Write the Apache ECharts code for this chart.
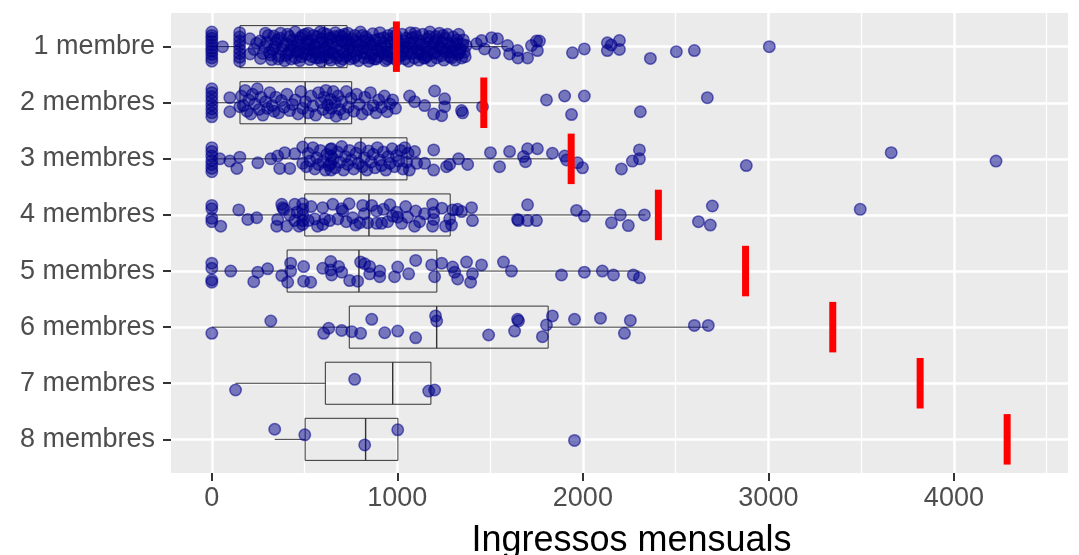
<!DOCTYPE html>
<html>
<head>
<meta charset="utf-8">
<script src="https://cdn.jsdelivr.net/npm/echarts@6/dist/echarts.min.js"></script>
<style>
html, body { margin: 0; padding: 0; background: #fff; }
#chart { width: 1079px; height: 555px; }
</style>
</head>
<body>
<div id="chart"></div>
<script>
// categories (household size)
const categories = ['1 membre', '2 membres', '3 membres', '4 membres', '5 membres', '6 membres', '7 membres', '8 membres']
// red threshold per category
const thresholds = [995, 1466, 1937, 2407, 2877, 3347, 3818, 4287]
// boxplot stats: [lower whisker, q1, median, q3, upper whisker]
const boxStats = [
  [0, 152, 608, 729, 1594],
  [0, 152, 503, 754, 1459],
  [0, 501, 804, 1052, 1836],
  [0, 501, 847, 1285, 2337],
  [0, 406, 793, 1213, 2305],
  [0, 741, 1212, 1813, 2676],
  [128, 612, 975, 1181, 1181],
  [339, 503, 829, 1003, 1003]
]
const xTicks = [0, 1000, 2000, 3000, 4000]
const xMinor = [500, 1500, 2500, 3500, 4500]

// points: [income, vertical jitter]
const pts1 = [
  [0,-.26],[0,-.2],[0,-.15],[0,-.09],[0,-.03],[0,.03],[0,.08],[0,.14],[0,.2],[0,.26],
  [58,0],
  [150,-.25],[150,-.17],[150,-.1],[150,-.03],[150,.05],[150,.12],[150,.19],[150,.26],
  [205,-.14],[206,.13],[228,.05],[241,-.06],[262,.21],[289,-.24],[298,-.08],[311,.1],[322,.23],[334,-.19],[341,.01],
  [352,-.12],[363,.17],[371,-.24],[379,.05],[393,.25],[401,-.05],[412,.12],[419,-.18],[428,.22],[441,0],[449,-.26],[456,.1],
  [466,-.1],[474,.25],[483,.18],[489,-.2],[499,.03],[506,-.06],[513,.14],[519,-.24],[529,.23],[536,-.12],[544,.06],[553,-.02],
  [561,.2],[567,-.18],[576,.1],[583,-.26],[589,.26],[597,-.08],[606,.02],[611,.16],[621,-.22],[627,.08],[636,-.14],[641,.24],
  [651,-.04],[657,.12],[666,-.25],[673,.2],[679,-.1],[689,.04],[694,.26],[703,-.18],[709,.1],[719,-.06],[724,.18],[733,-.24],
  [741,0],[747,.22],[756,-.14],[761,.08],[771,-.2],[777,.16],[786,-.02],[791,.25],[801,-.26],[807,.1],[816,-.1],[821,.2],
  [831,-.17],[837,.04],[846,.26],[851,-.07],[861,.14],[867,-.23],[876,.22],[881,-.12],[891,.06],[897,.18],[906,-.25],[911,-.02],
  [921,.12],[927,-.16],[936,.25],[941,0],[951,-.2],[957,.1],[966,-.08],[971,.2],[981,-.24],[987,.05],[996,.24],[1001,-.12],
  [1011,.15],[1017,-.04],[1026,-.22],[1031,.08],[1041,.22],[1047,-.15],[1056,0],[1061,.26],[1071,-.25],[1077,.12],[1086,-.08],
  [1091,.2],[1101,-.18],[1107,.04],[1116,.24],[1121,-.1],[1131,.14],[1137,-.22],[1146,0],[1151,.2],[1161,-.14],[1167,.08],
  [1176,-.26],[1181,.25],[1191,-.04],[1197,.12],[1206,-.18],[1211,.2],[1221,0],[1227,-.24],[1236,.16],[1241,-.08],[1251,.24],
  [1257,-.15],[1266,.06],[1271,-.22],[1281,.18],[1287,-.02],[1296,.1],[1301,-.17],[1311,.24],[1317,-.06],[1326,.14],[1331,-.22],
  [1341,.04],[1347,.2],[1356,-.12],[1361,.1],[1371,-.02],
  [430,-.02],[470,.08],[520,-.1],[560,0],[600,.18],[640,-.16],[690,-.2],[730,.06],[780,-.08],[820,.02],[860,-.02],[900,.08],
  [950,.16],[990,-.06],[1040,.02],[1080,-.16],[1120,.1],[1160,.16],[1200,-.08],[1240,.04],[1300,.06],
  [260,-.1],[275,.12],[285,0],[305,-.2],[318,.15],[330,.05],[345,-.06],[358,.22],[368,-.15],[385,-.02],[398,.16],[408,-.22],
  [423,.07],[436,-.12],[452,.2],[461,-.04],[478,-.16],[494,.12],[503,-.22],[516,.06],[526,-.04],[540,.18],[549,-.2],[557,.1],
  [571,-.06],[580,.2],[593,-.14],[603,-.24],[615,.06],[624,-.04],[632,.2],[646,.1],[661,-.18],[669,.02],[684,.16],[698,-.1],
  [706,.22],[714,-.22],[728,-.12],[737,.14],[752,-.04],[766,.2],[774,-.1],[795,.06],[812,-.2],[826,.12],[842,-.12],[856,.2],
  [872,-.04],[886,.22],[902,-.14],[916,.04],[932,-.06],[946,.22],[962,-.14],[976,.1],[992,-.2],[1006,.02],[1022,.16],[1036,-.1],
  [1052,.12],[1066,-.06],[1082,.04],[1096,-.24],[1112,.12],[1126,-.04],[1142,.2],[1156,-.06],[1172,-.18],[1186,.04],[1202,.1],
  [1216,-.12],[1232,.02],[1246,-.2],[1262,.1],[1276,-.06],[1292,.2],[1306,-.02],[1322,-.12],[1336,.1],[1352,-.04],[1366,.18],
  [1427,-.05],[1454,-.11],[1470,.04],[1508,-.16],[1524,.11],[1540,-.14],[1594,-.02],[1605,.13],[1648,.07],[1650,.2],[1702,.2],
  [1723,-.02],[1750,-.1],[1755,.07],[1766,-.1],[1944,.11],[2008,.04],[2132,.07],[2132,-.07],[2153,-.03],[2197,-.11],[2197,.05],
  [2364,.21],[2504,.09],[2601,.07],[3005,0]
]
const pts2 = [
  [0,-.25],[0,-.18],[0,-.11],[0,-.04],[0,.04],[0,.11],[0,.18],[0,.25],
  [97,-.09],[97,.16],[151,.07],
  [160,-.12],[170,.05],[180,-.22],[190,.15],[200,-.05],[210,.2],[220,-.15],[232,.02],[245,-.25],[255,.12],[265,-.1],[275,.22],
  [290,-.02],[300,.1],[312,-.18],[325,.05],[335,.15],[345,-.1],[360,.18],[375,-.04],[390,.08],[405,-.15],[420,.14],[435,.03],
  [450,-.05],[465,.2],[480,-.2],[490,.1],[505,-.02],[520,.18],[535,-.12],[545,.06],[560,.22],[575,-.18],[590,0],[600,.12],
  [605,-.1],[615,-.22],[625,.04],[630,.18],[640,-.06],[645,.1],[655,-.2],[665,0],[670,.24],[680,-.12],[690,.12],[700,-.02],
  [712,.2],[725,-.2],[735,.08],[750,-.08],[765,.15],[780,-.15],[795,.03],[810,.2],[825,-.1],[840,.12],[855,-.18],[870,.05],
  [885,.18],[900,-.05],[915,.08],[930,-.12],[945,.16],[960,.02],[975,-.05],[990,.1],
  [1066,-.12],[1093,-.02],[1147,.05],[1201,-.21],[1196,.2],[1239,.23],[1255,-.07],[1255,.07],[1346,.14],[1352,.18],[1459,.07],
  [1804,-.05],[1902,-.12],[1939,.21],[2008,-.12],[2310,.16],[2671,-.09]
]
const pts3 = [
  [0,-.2],[0,-.13],[0,-.05],[0,.03],[0,.1],[0,.17],[0,.23],
  [43,0],[97,.04],[135,.17],[151,-.03],[248,.07],[318,0],[355,-.05],[366,.17],[393,-.11],[420,.17],[447,-.09],[490,-.21],[490,.08],
  [510,.14],[520,-.1],[530,.04],[545,-.2],[555,.18],[565,-.02],[575,.1],[585,-.15],[600,.05],[612,.2],[620,-.08],[632,.12],
  [645,-.18],[655,0],[665,.16],[678,-.12],[690,.06],[700,-.22],[710,.2],[720,-.04],[732,.1],[742,-.15],[752,.02],[765,.18],
  [778,-.1],[790,.08],[800,-.2],[812,.14],[822,-.02],[835,.2],[845,-.14],[858,.06],[870,-.08],[880,.16],[892,-.2],[905,.02],
  [915,.12],[925,-.12],[938,.2],[950,-.04],[960,.08],[972,-.18],[985,.14],[995,-.06],[1008,.04],[1018,-.15],[1030,.18],
  [1040,-.2],[1050,.06],[1058,-.1],[1065,.2],
  [640,-.17],[642,-.05],[641,.08],[643,.2],
  [1093,-.13],[1104,.08],[1147,.08],[1196,-.16],[1196,.2],[1265,.14],[1282,.1],[1330,0],[1379,.1],[1502,-.11],[1551,.14],
  [1605,-.13],[1680,-.04],[1691,.05],[1702,-.18],[1755,-.18],[1836,-.1],[1902,-.05],[1912,.02],[1971,.07],[1998,.16],
  [2208,.18],[2267,.04],[2305,-.16],[2305,0],[2881,.12],[3662,-.11],[4227,.04]
]
const pts4 = [
  [0,-.17],[0,-.11],[0,.06],[0,.12],[48,.2],[145,-.09],[194,.08],[242,.05],[350,.2],[355,.08],[377,-.19],[388,-.1],[404,.2],
  [382,-.13],[447,-.19],[447,.1],[490,-.2],[490,-.1],[490,0],[490,.1],[490,.17],[555,.07],[598,-.13],[598,.17],[609,.07],
  [635,.1],[652,-.19],[679,.07],[700,-.11],[706,-.07],[797,.14],[813,-.17],[822,-.02],[840,.14],[862,-.17],[888,-.07],[888,.15],
  [915,.15],[948,.12],[996,-.05],[1002,.04],[1023,.15],[1045,-.15],[1055,.04],[1093,.2],[1099,-.07],[1147,-.02],[1190,-.19],
  [1196,-.04],[1196,.08],[1190,.2],[1282,.07],[1292,.18],[1298,-.09],[1325,-.1],[1346,-.06],[1400,-.13],[1405,.1],
  [420,0],[460,-.05],[470,.2],[520,.1],[535,-.15],[570,.2],[725,.12],[740,-.2],[760,.05],[775,.18],[925,-.1],[960,-.18],
  [975,.02],[1120,.12],[1240,-.12],[1260,.2],
  [1648,.08],[1652,.1],[1702,-.18],[1702,.1],[1750,.1],[1966,-.08],[2008,.02],[2154,.14],[2202,0],[2245,.19],[2332,0],
  [2623,.12],[2698,-.16],[2687,.18],[3495,-.1]
]
const pts5 = [
  [0,-.14],[0,-.05],[0,.16],[0,.2],[102,0],[226,.19],[248,.02],[301,-.04],[377,.08],[409,.2],[425,-.14],[425,0],[495,-.08],
  [495,.18],[533,.2],[598,-.05],[641,-.17],[641,-.02],[646,.07],[684,-.08],[700,.02],[743,.17],[786,.18],[802,-.16],[824,-.13],
  [851,-.08],[851,.05],[905,0],[905,.1],[985,.1],[1002,-.07],[1061,.05],[1099,-.19],[1185,-.11],[1201,.1],[1239,-.14],
  [1298,-.07],[1309,.02],[1325,.14],[1373,-.16],[1395,.2],[1405,.05],[1454,-.11],[1572,-.16],[1615,0],
  [1885,.07],[2008,.02],[2105,0],[2165,.07],[2272,.07],[2305,.12]
]
const pts6 = [
  [0,.11],[318,-.11],[603,.11],[630,.02],[700,.06],[754,.08],[802,.11],[862,-.14],[932,.1],[1002,.07],[1099,.19],[1206,-.2],
  [1212,-.11],[1492,.14],[1632,.07],[1648,-.14],[1653,-.11],[1782,.17],[1804,-.04],[1836,-.2],[1955,-.14],[2095,-.16],
  [2256,-.12],[2224,.11],[2601,-.03],[2676,-.03]
]
const pts7 = [[128,.12],[770,-.07],[1169,.14],[1201,.12]]
const pts8 = [[339,-.18],[501,-.08],[824,.1],[1002,-.17],[1955,.02]]
const pointsByCat = [pts1, pts2, pts3, pts4, pts5, pts6, pts7, pts8]

const catIdx = categories.map((c, i) => i + 1)
const font = 'Liberation Sans, Arial, sans-serif'

let scatterData = []
pointsByCat.forEach((pts, i) => {
  pts.forEach(p => scatterData.push([p[0], i + 1 + p[1]]))
})

// gridlines as markLines
let gridLines = []
xTicks.forEach(v => gridLines.push({ xAxis: v, lineStyle: { width: 2.5 } }))
xMinor.forEach(v => gridLines.push({ xAxis: v, lineStyle: { width: 1.2 } }))
catIdx.forEach(v => gridLines.push({ yAxis: v, lineStyle: { width: 2.5 } }))

function renderBox(params, api) {
  let y = api.value(0)
  let lo = api.value(1), q1 = api.value(2), med = api.value(3), q3 = api.value(4), hi = api.value(5)
  let a = api.coord([q1, y - 0.375])
  let b = api.coord([q3, y + 0.375])
  let c = api.coord([lo, y])
  let d = api.coord([hi, y])
  let m1 = api.coord([med, y - 0.375])
  let m2 = api.coord([med, y + 0.375])
  let st = { stroke: '#333333', lineWidth: 1, fill: null }
  let kids = [
    { type: 'rect', shape: { x: a[0], y: Math.min(a[1], b[1]), width: b[0] - a[0], height: Math.abs(b[1] - a[1]) }, style: st },
    { type: 'line', shape: { x1: m1[0], y1: m1[1], x2: m2[0], y2: m2[1] }, style: { stroke: '#333333', lineWidth: 1.4 } }
  ]
  if (lo < q1) kids.push({ type: 'line', shape: { x1: c[0], y1: c[1], x2: a[0], y2: c[1] }, style: st })
  if (hi > q3) kids.push({ type: 'line', shape: { x1: b[0], y1: c[1], x2: d[0], y2: c[1] }, style: st })
  return { type: 'group', children: kids }
}

function renderBar(params, api) {
  let x = api.value(0), y = api.value(1)
  let p1 = api.coord([x, y - 0.45])
  let p2 = api.coord([x, y + 0.45])
  return {
    type: 'line',
    shape: { x1: p1[0], y1: p1[1], x2: p2[0], y2: p2[1] },
    style: { stroke: '#FF0000', lineWidth: 7 }
  }
}

let chart = echarts.init(document.getElementById('chart'))
let option = {
  animation: false,
  backgroundColor: '#ffffff',
  grid: {
    left: 171, right: 11, top: 13, bottom: 82,
    outerBoundsMode: 'none',
    show: true, backgroundColor: '#EBEBEB', borderWidth: 0
  },
  xAxis: {
    type: 'value',
    min: -220,
    max: 4615,
    name: 'Ingressos mensuals',
    nameLocation: 'middle',
    nameGap: 50,
    nameTextStyle: { fontFamily: font, fontSize: 36, color: '#000000', padding: [0, 0, 0, 24] },
    axisLine: { show: false, onZero: false },
    axisTick: { show: true, length: 8, customValues: xTicks, lineStyle: { color: '#333333', width: 2 } },
    axisLabel: { customValues: xTicks, formatter: v => String(v), fontFamily: font, fontSize: 27, color: '#4D4D4D', margin: 12 },
    splitLine: { show: false }
  },
  yAxis: {
    type: 'value',
    min: 0.4,
    max: 8.6,
    inverse: true,
    axisLine: { show: false, onZero: false },
    axisTick: { show: true, length: 8, customValues: catIdx, lineStyle: { color: '#333333', width: 2 } },
    axisLabel: {
      customValues: catIdx,
      formatter: v => categories[Math.round(v) - 1],
      fontFamily: font, fontSize: 27, color: '#4D4D4D', margin: 16
    },
    splitLine: { show: false }
  },
  series: [
    {
      type: 'scatter',
      data: [],
      z: 1,
      silent: true,
      markLine: {
        z: 1,
        silent: true,
        symbol: ['none', 'none'],
        label: { show: false },
        lineStyle: { color: '#ffffff', type: 'solid' },
        data: gridLines
      }
    },
    {
      type: 'custom',
      z: 2,
      silent: true,
      renderItem: renderBox,
      encode: { x: [1, 2, 3, 4, 5], y: 0 },
      data: boxStats.map((b, i) => [i + 1].concat(b))
    },
    {
      type: 'scatter',
      z: 3,
      silent: true,
      symbolSize: 11.5,
      itemStyle: { color: 'rgba(0,0,139,0.5)', borderColor: 'rgba(0,0,139,0.55)', borderWidth: 1.5, opacity: 1 },
      data: scatterData
    },
    {
      type: 'custom',
      z: 4,
      silent: true,
      renderItem: renderBar,
      encode: { x: 0, y: 1 },
      data: thresholds.map((t, i) => [t, i + 1])
    }
  ]
}
chart.setOption(option)
</script>
</body>
</html>
